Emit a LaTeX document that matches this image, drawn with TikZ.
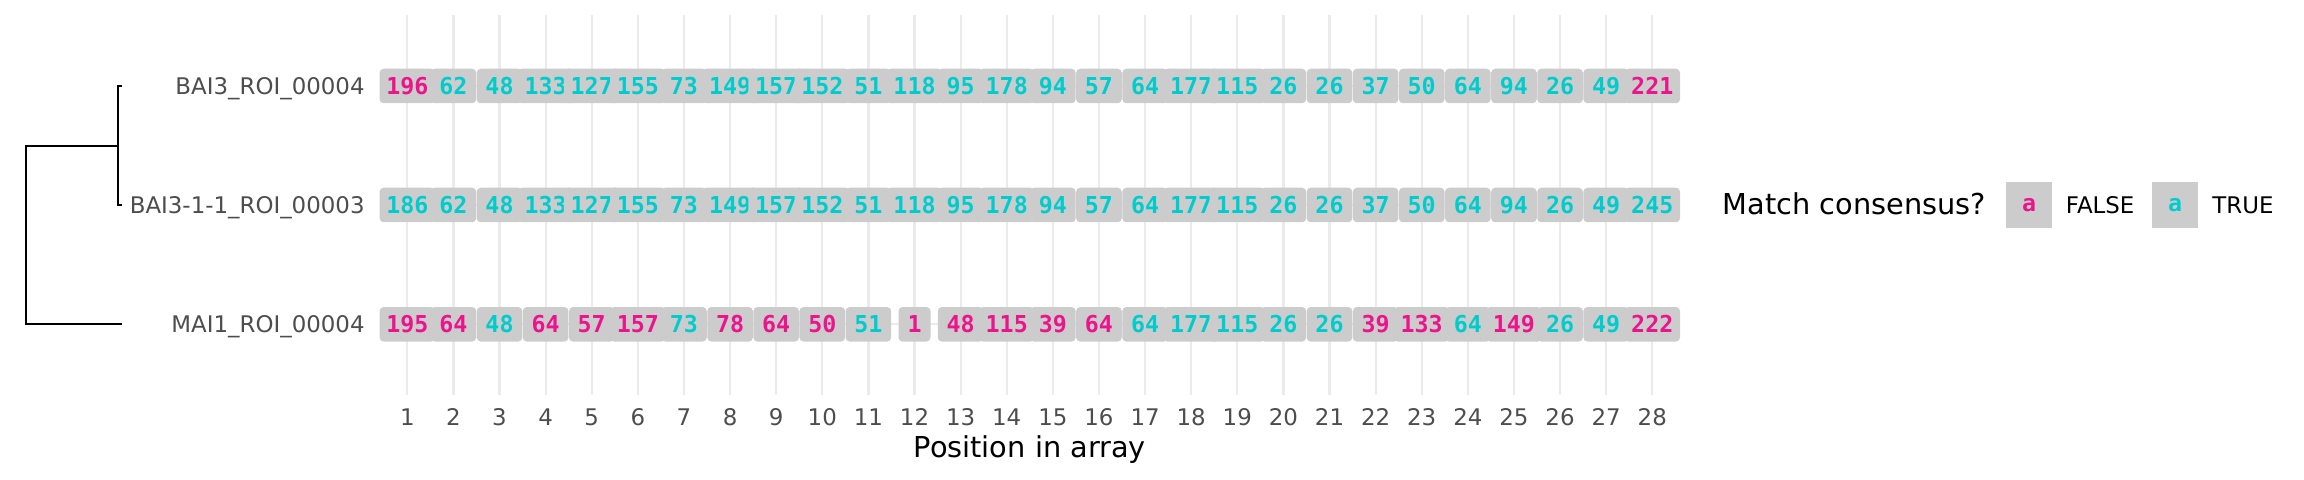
\documentclass[tikz,border=0pt]{standalone}
\usepackage{fontspec}
\setmainfont{DejaVu Sans}
\newfontfamily\tilefont{DejaVu Sans Mono}
\definecolor{gridgray}{HTML}{EBEBEB}
\definecolor{tilegray}{HTML}{CCCCCC}
\definecolor{gray30}{HTML}{4D4D4D}
\definecolor{matchF}{RGB}{236,20,140}
\definecolor{matchT}{RGB}{0,204,206}

\begin{document}
\begin{tikzpicture}[x=0.5pt, y=-0.5pt,
	gridline/.style={draw=gridgray, line width=1.1pt},
	tile/.style={fill=tilegray, rounded corners=2pt, inner sep=0pt, minimum height=17.25pt, font=\tilefont\bfseries\fontsize{11.65}{14}\selectfont},
	axislab/.style={text=gray30, inner sep=0pt, font=\fontsize{11.45}{14}\selectfont},
	legtitle/.style={inner sep=0pt, font=\fontsize{14.4}{17}\selectfont},
	legkey/.style={fill=tilegray, inner sep=0pt, minimum size=23pt, font=\tilefont\bfseries\fontsize{11.65}{14}\selectfont}]
	\useasboundingbox (0,0) rectangle (2304,480);
	\foreach \y in {86,205,324.3}
		\draw[gridline] (379.6,\y) -- (1680,\y);
	\foreach \i in {1,...,28}
		\draw[gridline] ({407.3+(\i-1)*46.11},14.6) -- ({407.3+(\i-1)*46.11},395.4);
	\foreach \v/\m [count=\i] in {196/F,62/T,48/T,133/T,127/T,155/T,73/T,149/T,157/T,152/T,51/T,118/T,95/T,178/T,94/T,57/T,64/T,177/T,115/T,26/T,26/T,37/T,50/T,64/T,94/T,26/T,49/T,221/F}
		{\pgfmathsetmacro\w{\v>99?27.75:(\v>9?22.8:16)}
		\node[tile, minimum width=\w pt, text=match\m] (a\i) at ({407.3+(\i-1)*46.11},86) {\v};}
	\foreach \v/\m [count=\i] in {186/T,62/T,48/T,133/T,127/T,155/T,73/T,149/T,157/T,152/T,51/T,118/T,95/T,178/T,94/T,57/T,64/T,177/T,115/T,26/T,26/T,37/T,50/T,64/T,94/T,26/T,49/T,245/T}
		{\pgfmathsetmacro\w{\v>99?27.75:(\v>9?22.8:16)}
		\node[tile, minimum width=\w pt, text=match\m] (b\i) at ({407.3+(\i-1)*46.11},205) {\v};}
	\foreach \v/\m [count=\i] in {195/F,64/F,48/T,64/F,57/F,157/F,73/T,78/F,64/F,50/F,51/T,1/F,48/F,115/F,39/F,64/F,64/T,177/T,115/T,26/T,26/T,39/F,133/F,64/T,149/F,26/T,49/T,222/F}
		{\pgfmathsetmacro\w{\v>99?27.75:(\v>9?22.8:16)}
		\node[tile, minimum width=\w pt, text=match\m] (c\i) at ({407.3+(\i-1)*46.11},324.3) {\v};}
	\node[axislab, anchor=base east] (labA) at (365,94.4) {BAI3\_ROI\_00004};
	\node[axislab, anchor=base east] (labB) at (365,213.4) {BAI3-1-1\_ROI\_00003};
	\node[axislab, anchor=base east] (labC) at (365,332.7) {MAI1\_ROI\_00004};
	\coordinate (leafA) at (122,86);
	\coordinate (leafB) at (122,205);
	\coordinate (leafC) at (122,324.3);
	\coordinate (inner) at (118.3,145.7);
	\coordinate (root) at (26,145.7);
	\draw[line width=1pt] (leafA) -| (inner) |- (leafB);
	\draw[line width=1pt] (inner) -- (root) |- (leafC);
	\foreach \i in {1,...,28}
		\node[axislab, anchor=base] (tick\i) at ({407.3+(\i-1)*46.11},426) {\i};
	\node[legtitle, anchor=base] (xtitle) at (1029.8,458) {Position in array};
	\node[legtitle, anchor=base west] (ltitle) at (1722.5,215) {Match consensus?};
	\node[legkey, text=matchF] (keyF) at (2029,205.3) {a};
	\node[axislab, text=black, anchor=base west] (labF) at (2065.5,214) {FALSE};
	\node[legkey, text=matchT] (keyT) at (2175,205.3) {a};
	\node[axislab, text=black, anchor=base west] (labT) at (2212,214) {TRUE};
\end{tikzpicture}
\end{document}
